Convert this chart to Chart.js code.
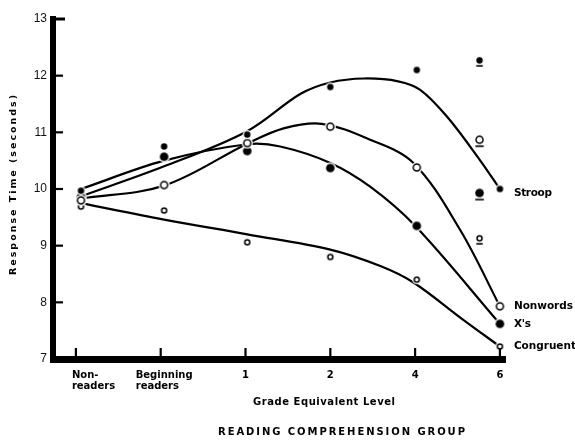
<!DOCTYPE html>
<html>
<head>
<meta charset="utf-8">
<script src="https://cdn.jsdelivr.net/npm/chart.js@4.4.1/dist/chart.umd.min.js"></script>
<style>
  html, body { margin: 0; padding: 0; background: #fff; }
  #wrap { width: 575px; height: 445px; position: relative; }
</style>
</head>
<body>
<div id="wrap"><canvas id="chart"></canvas></div>
<script>
// grade levels on the x axis (index 0..5)
const categoryLabels = [['Non-', 'readers'], ['Beginning', 'readers'], ['1'], ['2'], ['4'], ['6']];
const yTicks = [7, 8, 9, 10, 11, 12, 13];

// where the group means were plotted (grade-6 means sit a little left of the tick)
const meanLevels = [0.06, 1.04, 2.02, 3.0, 4.02, 4.76];
const stroopMeans = [9.97, 10.75, 10.96, 11.8, 12.1, 12.27];
const nonwordsMeans = [9.8, 10.07, 10.81, 11.1, 10.38, 10.87];
const xsMeans = [9.86, 10.57, 10.67, 10.37, 9.35, 9.93];
const congruentMeans = [9.69, 9.62, 9.06, 8.8, 8.4, 9.13];

// fitted curves
const stroopFitX = [0.06, 1.04, 2.02, 2.65, 3.0, 3.4, 3.8, 4.06, 4.38, 4.76, 5.0];
const stroopFitY = [9.87, 10.4, 11.02, 11.68, 11.88, 11.95, 11.9, 11.75, 11.27, 10.52, 10.0];
const nonwordsFitX = [0.06, 1.04, 2.02, 2.45, 2.9, 3.47, 3.98, 4.53, 5.0];
const nonwordsFitY = [9.83, 10.06, 10.8, 11.07, 11.15, 10.87, 10.46, 9.28, 7.93];
const xsFitX = [0.06, 1.04, 2.02, 2.41, 3.0, 3.47, 4.0, 5.0];
const xsFitY = [10.0, 10.5, 10.79, 10.75, 10.46, 10.04, 9.35, 7.62];
const congruentFitX = [0.06, 1.04, 2.02, 3.0, 3.59, 3.98, 4.56, 5.0];
const congruentFitY = [9.75, 9.46, 9.2, 8.93, 8.64, 8.35, 7.7, 7.22];

const seriesNames = ['Stroop', 'Nonwords', "X's", 'Congruent'];

const boldFont = '"DejaVu Sans", sans-serif';

function makeMarker(r, filled, underline) {
  const size = Math.ceil(2 * r + 6);
  const h = underline ? size + 12 : size;
  const c = document.createElement('canvas');
  c.width = size;
  c.height = h;
  const g = c.getContext('2d');
  const cx = size / 2, cy = h / 2;
  g.beginPath();
  g.arc(cx, cy, r + 1.4, 0, Math.PI * 2);
  g.fillStyle = '#fff';
  g.fill();
  g.beginPath();
  if (filled) {
    g.arc(cx, cy, r, 0, Math.PI * 2);
    g.fillStyle = '#000';
    g.fill();
  } else {
    g.arc(cx, cy, r - 0.7, 0, Math.PI * 2);
    g.lineWidth = 1.5;
    g.strokeStyle = '#000';
    g.stroke();
  }
  if (underline) {
    g.fillStyle = '#000';
    g.fillRect(cx - r, cy + r + 1.5, 2 * r, 1.6);
  }
  return c;
}

const markerSpec = [
  { r: 3.2, filled: true },   // Stroop
  { r: 4.2, filled: false },  // Nonwords
  { r: 4.3, filled: true },   // X's
  { r: 3.2, filled: false }   // Congruent
];
const markers = markerSpec.map(m => makeMarker(m.r, m.filled, false));
const markersU = markerSpec.map(m => makeMarker(m.r, m.filled, true));

const meanSeries = [stroopMeans, nonwordsMeans, xsMeans, congruentMeans];
const fitSeries = [
  [stroopFitX, stroopFitY],
  [nonwordsFitX, nonwordsFitY],
  [xsFitX, xsFitY],
  [congruentFitX, congruentFitY]
];

const datasets = [];
meanSeries.forEach((vals, s) => {
  datasets.push({
    label: seriesNames[s] + ' means',
    data: vals.map((v, i) => ({ x: meanLevels[i], y: v })),
    showLine: false,
    pointRadius: 4,
    pointStyle: vals.map((v, i) => i === vals.length - 1 ? markersU[s] : markers[s]),
    order: 0
  });
});
fitSeries.forEach(([xs, ys], s) => {
  datasets.push({
    label: seriesNames[s],
    data: xs.map((x, i) => ({ x: x, y: ys[i] })),
    showLine: true,
    borderColor: '#000',
    borderWidth: 2.2,
    tension: 0.35,
    pointStyle: markers[s],
    pointRadius: ctx => ctx.dataIndex === xs.length - 1 ? 4 : 0,
    order: 1
  });
});

function spacedText(ctx, text, x, y, width, align) {
  const chars = Array.from(text);
  const widths = chars.map(ch => ctx.measureText(ch).width);
  const total = widths.reduce((a, b) => a + b, 0);
  const gap = chars.length > 1 ? (width - total) / (chars.length - 1) : 0;
  let cx = align === 'center' ? x - width / 2 : x;
  ctx.textAlign = 'left';
  chars.forEach((ch, i) => {
    ctx.fillText(ch, cx, y);
    cx += widths[i] + gap;
  });
}

const decor = {
  id: 'decor',
  afterDraw(chart) {
    const ctx = chart.ctx;
    const xs = chart.scales.x, ys = chart.scales.y;
    const area = chart.chartArea;
    ctx.save();
    ctx.strokeStyle = '#000';
    ctx.fillStyle = '#000';

    // inward tick marks
    ctx.lineWidth = 2.2;
    yTicks.slice(1, -1).forEach(v => {
      const y = ys.getPixelForValue(v);
      ctx.beginPath();
      ctx.moveTo(area.left, y);
      ctx.lineTo(area.left + 10, y);
      ctx.stroke();
    });
    ctx.lineWidth = 3;
    const yTop = ys.getPixelForValue(yTicks[yTicks.length - 1]);
    ctx.beginPath();
    ctx.moveTo(area.left - 3, yTop);
    ctx.lineTo(area.left + 12, yTop);
    ctx.stroke();
    ctx.lineWidth = 2.2;
    categoryLabels.forEach((lab, i) => {
      const x = xs.getPixelForValue(i);
      ctx.beginPath();
      ctx.moveTo(x, area.bottom);
      ctx.lineTo(x, area.bottom - 11);
      ctx.stroke();
    });

    // category labels
    ctx.font = 'bold 10px ' + boldFont;
    ctx.textBaseline = 'alphabetic';
    const shift = [-4, -25];
    categoryLabels.forEach((lines, i) => {
      const x = xs.getPixelForValue(i);
      lines.forEach((line, k) => {
        const y = area.bottom + 19 + k * 11;
        if (lines.length > 1) {
          ctx.textAlign = 'left';
          ctx.fillText(line, x + shift[i], y);
        } else {
          ctx.textAlign = 'center';
          ctx.fillText(line, x, y);
        }
      });
    });

    // axis titles
    ctx.font = 'bold 10px ' + boldFont;
    spacedText(ctx, 'Grade Equivalent Level', 253, area.bottom + 46, 142, 'left');
    spacedText(ctx, 'READING COMPREHENSION GROUP', 218, area.bottom + 76, 247, 'left');

    ctx.save();
    ctx.translate(16, 185);
    ctx.rotate(-Math.PI / 2);
    ctx.font = 'bold 9.5px ' + boldFont;
    spacedText(ctx, 'Response Time (seconds)', 0, 0, 180, 'center');
    ctx.restore();

    // series names at the curve ends
    ctx.font = 'bold 10.5px ' + boldFont;
    ctx.textBaseline = 'middle';
    const nameWidth = [38, 59, 17, 62];
    fitSeries.forEach(([fx, fy], s) => {
      const x = xs.getPixelForValue(fx[fx.length - 1]) + 14;
      const y = ys.getPixelForValue(fy[fy.length - 1]) + (s === 0 ? 4 : 0);
      spacedText(ctx, seriesNames[s], x, y, nameWidth[s], 'left');
    });
    ctx.restore();
  }
};

new Chart(document.getElementById('chart'), {
  type: 'scatter',
  data: { datasets: datasets },
  options: {
    responsive: true,
    maintainAspectRatio: false,
    animation: false,
    layout: { padding: { top: 19, right: 70, left: 0, bottom: 0 } },
    plugins: {
      legend: { display: false },
      tooltip: { enabled: false },
      title: { display: false }
    },
    scales: {
      x: {
        type: 'linear',
        min: -0.27,
        max: 5.06,
        afterBuildTicks: s => { s.ticks = categoryLabels.map((l, i) => ({ value: i })); },
        afterFit: s => { s.height = 86; },
        ticks: { display: false },
        grid: { display: false },
        border: { display: true, width: 7, color: '#000' }
      },
      y: {
        min: yTicks[0],
        max: yTicks[yTicks.length - 1],
        afterBuildTicks: s => { s.ticks = yTicks.map(v => ({ value: v })); },
        afterFit: s => { s.width = 53; },
        ticks: {
          padding: 6,
          color: '#111',
          font: { family: '"Liberation Sans", Arial, sans-serif', size: 12 }
        },
        grid: { display: false, drawTicks: false },
        border: { display: true, width: 6, color: '#000' }
      }
    }
  },
  plugins: [decor]
});
</script>
</body>
</html>
